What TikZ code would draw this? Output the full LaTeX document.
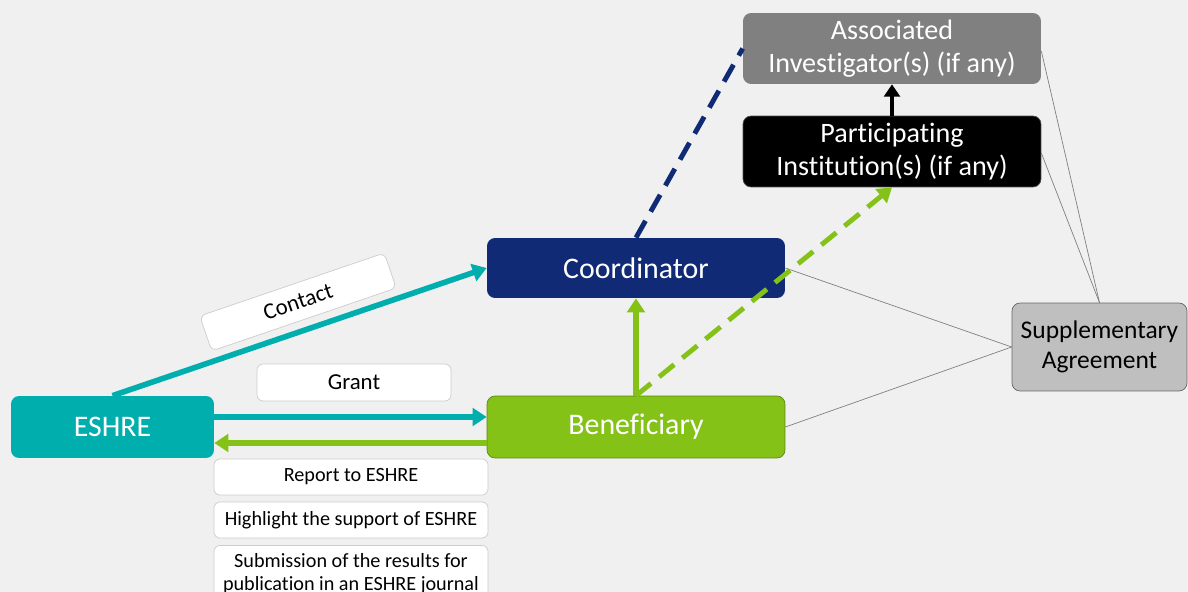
\documentclass[tikz,border=0pt]{standalone}
\usepackage{fontspec}
\setmainfont{Carlito}[Ligatures=NoCommon]
\usetikzlibrary{arrows.meta}
\definecolor{eshreteal}{RGB}{0,174,174}
\definecolor{coordnavy}{RGB}{16,42,118}
\definecolor{benefgreen}{RGB}{132,194,24}
\definecolor{assocgray}{RGB}{128,128,128}
\definecolor{suppgray}{RGB}{191,191,191}
\definecolor{bggray}{RGB}{240,240,240}

\begin{document}
\begin{tikzpicture}[x=0.02cm,y=-0.02cm,
	party/.style={rounded corners=0.16cm,text=white,align=center,inner sep=0pt,
		minimum width=5.96cm},
	note/.style={draw=black!20,fill=white,rounded corners=0.12cm,align=center,
		inner sep=0pt,font=\fontsize{11.5}{13}\selectfont},
	flow/.style={line width=3.2pt,-{Triangle[length=8pt,width=10pt]}},
	tie/.style={draw=gray,line width=0.4pt}]
			\fill[bggray] (0,0) rectangle (1188,592);
			\useasboundingbox (0,0) rectangle (1188,592);
			
			% parties
			\node[party,fill=eshreteal,minimum width=4.06cm,minimum height=1.24cm,
				font=\fontsize{17}{20}\selectfont] (eshre) at (112.5,427) {ESHRE};
			\node[party,fill=coordnavy,minimum height=1.2cm,
				font=\fontsize{17}{20}\selectfont] (coord) at (636,268) {Coordinator};
			\node[party,fill=benefgreen,draw=benefgreen!70!black,minimum height=1.24cm,
				font=\fontsize{17}{20}\selectfont] (benef) at (636,427) {Beneficiary};
			\node[party,fill=assocgray,minimum height=1.42cm,
				font=\fontsize{16}{19}\selectfont] (assoc) at (892,48.5) {Associated\\Investigator(s) (if any)};
			\node[party,fill=black,draw=black!70,minimum height=1.42cm,
				font=\fontsize{16}{19}\selectfont] (part) at (892,151.5) {Participating\\Institution(s) (if any)};
			\node[party,fill=suppgray,draw=black!60,text=black,minimum width=3.5cm,
				minimum height=1.76cm,font=\fontsize{14.5}{17}\selectfont] (supp) at (1099.5,347) {Supplementary\\Agreement};
			
			% labels
			\node[note,rotate=18.85,minimum width=3.9cm,minimum height=0.74cm,
				font=\fontsize{13}{15}\selectfont] (contact) at (298,302) {Contact};
			\node[note,minimum width=3.88cm,minimum height=0.74cm,
				font=\fontsize{13}{15}\selectfont] (grant) at (354,382.5) {Grant};
			\node[note,minimum width=5.48cm,minimum height=0.72cm] (report) at (351,477) {Report to ESHRE};
			\node[note,minimum width=5.48cm,minimum height=0.72cm] (highlight) at (351,520) {Highlight the support of ESHRE};
			\node[note,minimum width=5.48cm,minimum height=1.14cm] (submit) at (351,574) {Submission of the results for\\publication in an ESHRE journal};
			
			% thin ties to the agreement
			\draw[tie] ([yshift=-0.05cm]assoc.east) -- (supp.north);
			\draw[tie] ([yshift=-0.03cm]part.east) -- (supp.north);
			\draw[tie] (coord.east) -- (supp.west);
			\draw[tie] (benef.east) -- (supp.west);
			
			% flows
			\draw[flow,eshreteal] (eshre.north) -- (coord.west);
			\draw[flow,eshreteal] ([yshift=0.2cm]eshre.east) -- ([yshift=0.2cm]benef.west);
			\draw[flow,benefgreen] ([yshift=-0.32cm]benef.west) -- ([yshift=-0.32cm]eshre.east);
			\draw[flow,benefgreen] (benef.north) -- (coord.south);
			\draw[flow,benefgreen,line width=2.8pt,dash pattern=on 11pt off 6pt] (benef.north) -- (part.south);
			\draw[coordnavy,line width=2.8pt,dash pattern=on 11pt off 6pt] (coord.north) -- (assoc.west);
			\draw[flow,black,line width=2.8pt,-{Triangle[length=7pt,width=9pt]}] (part.north) -- (assoc.south);
		\end{tikzpicture}
\end{document}
